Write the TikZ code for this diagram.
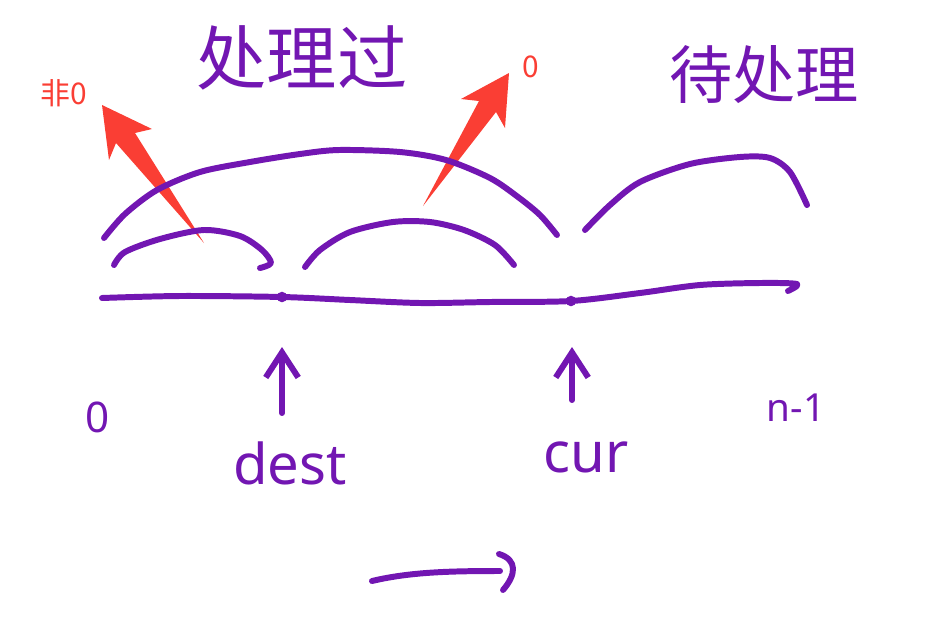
\documentclass[tikz,border=0pt]{standalone}
\usepackage{fontspec}
\setmainfont{Noto Sans}
\newfontfamily\cjk{Noto Sans CJK SC}
\definecolor{morado}{RGB}{114,22,178}
\definecolor{rojo}{RGB}{250,62,52}
\usetikzlibrary{arrows.meta,positioning}

\begin{document}
\begin{tikzpicture}[x=0.02cm,y=-0.02cm,
    trazo/.style={morado,line width=3.4pt,line cap=round,line join=round},
    flecha/.style={trazo,-{Straight Barb[length=5mm,width=6.5mm,line width=3.4pt]}}]
  \useasboundingbox (0,0) rectangle (944,626);
  % titulos
  \node[font=\cjk\fontsize{40}{40}\selectfont,text=morado] (hecho) at (302,58) {处理过};
  \node[font=\cjk\fontsize{36}{36}\selectfont,text=morado] (pend) at (764,75) {待处理};
  \node[font=\cjk\fontsize{17}{17}\selectfont,text=rojo] (nocero) at (64,93) {非0};
  \node[font=\cjk\fontsize{17}{17}\selectfont,text=rojo] (cero) at (531,67) {0};

  % flechas rojas
  \fill[rojo] (102,105) -- (152,129) -- (135,133) -- (204,243) -- (116,143) -- (109,160) -- cycle;
  \fill[rojo] (509,73) -- (505,128) -- (496,112) -- (423,206) -- (479,101) -- (461,99) -- cycle;

  % arcos
  \draw[trazo] plot[smooth] coordinates {(104,238) (125,214) (157,190) (200,172)
    (250,162) (300,154) (339,150) (400,152) (446,160) (490,178) (518,197)
    (540,215) (557,235)};
  \draw[trazo] plot[smooth] coordinates {(114,265) (125,252) (160,239) (204,230)
    (240,236) (262,250) (271,263) (260,268)};
  \draw[trazo] plot[smooth] coordinates {(305,267) (320,250) (350,232) (393,222)
    (430,222) (464,230) (495,245) (514,265)};
  \draw[trazo] plot[smooth] coordinates {(585,230) (610,205) (640,182) (690,164)
    (740,157) (770,158) (790,172) (807,205)};

  % eje
  \coordinate (pd) at (282,297);
  \coordinate (pc) at (571,301);
  \draw[trazo] plot[smooth] coordinates {(102,298) (180,296) (pd) (350,300)
    (420,303) (490,302) (pc) (640,293) (700,285) (760,283) (797,284) (788,291)};
  \fill[morado] (pd) circle (3pt);
  \fill[morado] (pc) circle (3pt);

  % indices
  \node[font=\fontsize{24}{24}\selectfont,text=morado] (ini) at (98,417) {0};
  \node[font=\fontsize{32}{32}\selectfont,text=morado] (dest) at (290,463) {dest};
  \node[font=\fontsize{32}{32}\selectfont,text=morado] (cur) at (586,457) {cur};
  \node[font=\fontsize{22}{22}\selectfont,text=morado] (fin) at (796,408) {n-1};
  \coordinate (dpie) at (282,413);
  \coordinate (dpunta) at (282,347);
  \coordinate (cpie) at (572,400);
  \coordinate (cpunta) at (572,347);
  \draw[flecha] (dpie) -- (dpunta);
  \draw[flecha] (cpie) -- (cpunta);

  % sentido del recorrido
  \coordinate (sa) at (372,581);
  \coordinate (sb) at (500,571);
  \draw[trazo] (sa) .. controls (410,572) and (450,571) .. (sb);
  \draw[trazo] (499,554) .. controls (518,560) and (516,575) .. (503,590);
\end{tikzpicture}
\end{document}
